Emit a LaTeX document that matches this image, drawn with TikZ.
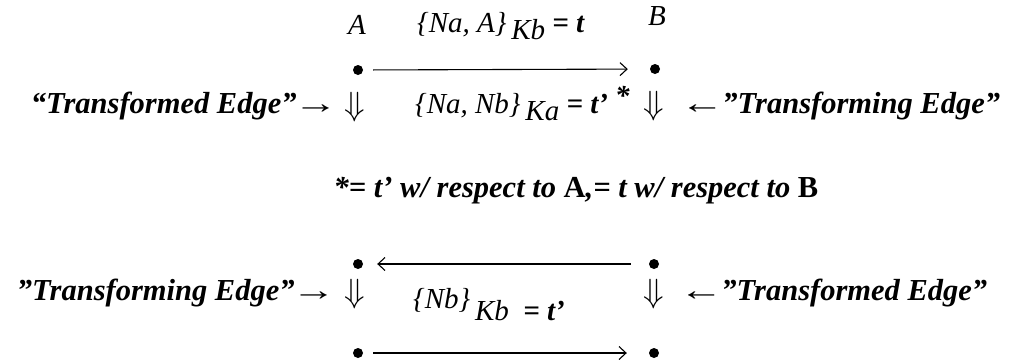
\documentclass[tikz,border=0pt]{standalone}
\usepackage{fontspec}
\setmainfont{Liberation Serif}
\usetikzlibrary{arrows.meta}

\newcommand{\larr}{\scalebox{1.45}[1]{←}\kern-2pt}
\newcommand{\rarr}{\kern-3pt\scalebox{1.45}[1]{→}}
\newcommand{\dnarr}{\scalebox{1.35}{$\Downarrow$}}

\begin{document}
\begin{tikzpicture}[x=1pt,y=-1pt,
  dot/.style={circle,fill,inner sep=0pt,minimum size=10pt},
  lbl/.style={font=\fontsize{30.5}{35}\selectfont\bfseries\itshape,inner sep=0pt},
  msg/.style={font=\fontsize{29}{34}\selectfont\itshape,inner sep=0pt},
  dn/.style={font=\fontsize{24}{28}\selectfont,inner sep=0pt},
  link/.style={line width=1.1pt,-{Straight Barb[length=7pt,width=13pt]}}]
\useasboundingbox (0,0) rectangle (1018,362);

% top pair
\node[msg] (A) at (357,25) {A};
\node[msg] (B) at (657,16) {B};
\node[dot] (a1) at (358,70) {};
\node[dot] (b1) at (655,69) {};
\draw[link,shorten <=10pt,shorten >=22pt] (a1) -- (b1);
\node[msg,anchor=base west] (m1) at (417,32) {\{Na, A\}\,\raisebox{-7pt}{Kb}\ \textbf{= t}};

\node[dn] (d1) at (355,107) {\dnarr};
\node[dn] (d2) at (654,106) {\dnarr};
\node[lbl,anchor=base east] (t1) at (338,113) {“Transformed Edge”\rarr};
\node[lbl,anchor=base west] (t2) at (680,113) {\larr”Transforming Edge”};
\node[msg,anchor=base west] (m2) at (415,113) {\{Na, Nb\}\,\raisebox{-7pt}{Ka}\ \textbf{= t’}\ \raisebox{8pt}{\textbf{*}}};

% note
\node[lbl,anchor=base] (note) at (576,197) {*= t’ w/ respect to \textup{A},= t w/ respect to \textup{B}};

% bottom pair
\node[dot] (a2) at (358,264) {};
\node[dot] (b2) at (654,264) {};
\draw[link,shorten <=18pt,shorten >=14pt] (b2) -- (a2);
\node[dn] (d3) at (355,294) {\dnarr};
\node[dn] (d4) at (654,294) {\dnarr};
\node[lbl,anchor=base east] (t3) at (336,300) {”Transforming Edge”\rarr};
\node[lbl,anchor=base west] (t4) at (679,300) {\larr”Transformed Edge”};
\node[msg,anchor=base west] (m3) at (413,308) {\{Nb\}\,\raisebox{-12pt}{Kb}\ \ \raisebox{-12pt}{\textbf{= t’}}};
\node[dot] (a3) at (358,353) {};
\node[dot] (b3) at (654,353) {};
\draw[link,shorten <=10pt,shorten >=22pt] (a3) -- (b3);

\end{tikzpicture}
\end{document}
